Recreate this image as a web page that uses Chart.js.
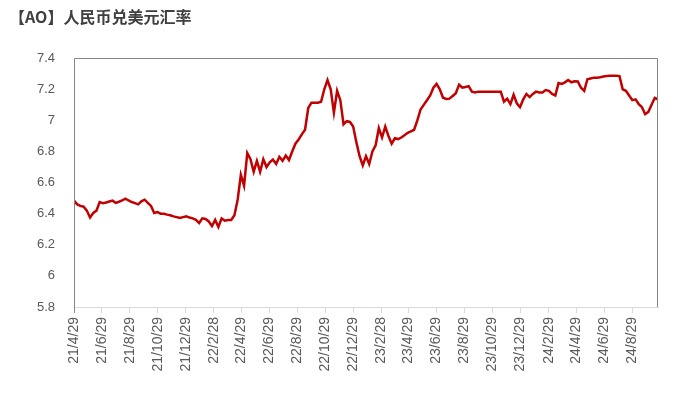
<html>
    <head>
        <script src="https://cdn.jsdelivr.net/npm/chart.js@4.4.0/dist/chart.umd.min.js"></script>
        <style>
            body { margin: 0; background: #fff; }
            #wrap { width: 675px; height: 393px; }
        </style>
    </head>
    <body>
        <div id="wrap"><canvas id="myChart" width="675" height="393"></canvas></div>

        <script>
            // weekly USD/CNY readings, first one on 2021-04-29
            var startDate = '21/4/29';
            var rates = [
                6.485, 6.46, 6.45, 6.445, 6.42, 6.375, 6.405, 6.42, 6.475, 6.468,
                6.472, 6.478, 6.484, 6.47, 6.477, 6.485, 6.497, 6.485, 6.475, 6.468,
                6.46, 6.48, 6.49, 6.47, 6.45, 6.405, 6.41, 6.40, 6.40, 6.394,
                6.39, 6.383, 6.378, 6.372, 6.378, 6.383, 6.375, 6.37, 6.361, 6.34,
                6.37, 6.366, 6.35, 6.32, 6.36, 6.315, 6.37, 6.355, 6.36, 6.36,
                6.39, 6.49, 6.65, 6.58, 6.79, 6.75, 6.67, 6.74, 6.67, 6.75,
                6.70, 6.73, 6.748, 6.72, 6.766, 6.74, 6.774, 6.745, 6.80, 6.85,
                6.877, 6.91, 6.94, 7.08, 7.114, 7.114, 7.114, 7.12, 7.20, 7.26,
                7.20, 7.05, 7.19, 7.13, 6.975, 6.995, 6.99, 6.96, 6.86, 6.77,
                6.71, 6.77, 6.72, 6.80, 6.84, 6.95, 6.89, 6.96, 6.90, 6.85,
                6.885, 6.88, 6.89, 6.905, 6.92, 6.93, 6.94, 7.00, 7.07, 7.10,
                7.13, 7.16, 7.21, 7.235, 7.20, 7.146, 7.138, 7.14, 7.157, 7.175,
                7.23, 7.21, 7.215, 7.22, 7.185, 7.18, 7.185, 7.185, 7.185, 7.185,
                7.185, 7.185, 7.185, 7.185, 7.12, 7.14, 7.105, 7.165, 7.11, 7.085,
                7.135, 7.17, 7.15, 7.17, 7.185, 7.18, 7.18, 7.195, 7.19, 7.17,
                7.16, 7.24, 7.235, 7.245, 7.26, 7.245, 7.252, 7.25, 7.21, 7.19,
                7.265, 7.27, 7.275, 7.275, 7.278, 7.282, 7.286, 7.287, 7.287, 7.287,
                7.285, 7.20, 7.19, 7.16, 7.13, 7.135, 7.105, 7.085, 7.04, 7.055,
                7.10, 7.145, 7.135
            ];
            var tickLabels = [
                '21/4/29', '21/6/29', '21/8/29', '21/10/29', '21/12/29', '22/2/28',
                '22/4/29', '22/6/29', '22/8/29', '22/10/29', '22/12/29', '23/2/28',
                '23/4/29', '23/6/29', '23/8/29', '23/10/29', '23/12/29', '24/2/29',
                '24/4/29', '24/6/29', '24/8/29'
            ];
            var yTicks = [5.8, 6, 6.2, 6.4, 6.6, 6.8, 7, 7.2, 7.4];

            function toDay(s) {
                var p = s.split('/');
                return Date.UTC(2000 + +p[0], +p[1] - 1, +p[2]) / 86400000;
            }
            var day0 = toDay(startDate);
            var tickDays = tickLabels.map(s => toDay(s) - day0);
            var points = rates.map((v, i) => ({ x: i * 7, y: v }));

            // frame: grey left/top/right, left line runs down into the first tick
            var framePlugin = {
                id: 'frame',
                afterDatasetsDraw(chart) {
                    var a = chart.chartArea, c = chart.ctx;
                    c.save();
                    c.strokeStyle = '#868686';
                    c.lineWidth = 1;
                    c.beginPath();
                    c.moveTo(Math.round(a.left) + 0.5, Math.round(a.bottom) + 6);
                    c.lineTo(Math.round(a.left) + 0.5, Math.round(a.top) + 0.5);
                    c.lineTo(Math.round(a.right) - 0.5, Math.round(a.top) + 0.5);
                    c.lineTo(Math.round(a.right) - 0.5, Math.round(a.bottom));
                    c.stroke();
                    c.restore();
                }
            };

            var ctx = document.getElementById('myChart').getContext('2d');
            var chart = new Chart(ctx, {
                type: 'line',
                data: {
                    datasets: [{
                        label: '人民币兑美元汇率',
                        data: points,
                        borderColor: '#c00000',
                        borderWidth: 2.5,
                        pointRadius: 0,
                        tension: 0,
                        fill: false
                    }]
                },
                options: {
                    responsive: false,
                    animation: false,
                    devicePixelRatio: 1,
                    layout: { padding: { left: 9, right: 17, top: 0, bottom: 0 } },
                    plugins: {
                        legend: { display: false },
                        tooltip: { enabled: false },
                        title: {
                            display: true,
                            text: '【AO】人民币兑美元汇率',
                            align: 'start',
                            color: '#404040',
                            font: { family: '"Noto Sans CJK SC", sans-serif', size: 16, weight: 'bold' },
                            padding: { top: 7, bottom: 32 }
                        }
                    },
                    scales: {
                        x: {
                            type: 'linear',
                            min: 0,
                            max: (rates.length - 1) * 7,
                            afterBuildTicks: s => { s.ticks = tickDays.map(v => ({ value: v })); },
                            afterFit: s => { s.height = 86; },
                            grid: {
                                drawOnChartArea: false,
                                drawTicks: true,
                                tickLength: 6,
                                color: '#d9d9d9'
                            },
                            border: { display: true, color: '#d9d9d9' },
                            ticks: {
                                autoSkip: false,
                                minRotation: 90,
                                maxRotation: 90,
                                padding: 4,
                                color: '#595959',
                                font: { family: '"Liberation Sans", Arial, sans-serif', size: 14 },
                                callback: (v, i) => tickLabels[i]
                            }
                        },
                        y: {
                            min: 5.8,
                            max: 7.4,
                            afterBuildTicks: s => { s.ticks = yTicks.map(v => ({ value: v })); },
                            afterFit: s => { s.width = 65; },
                            grid: { display: false },
                            border: { display: false },
                            ticks: {
                                padding: 11,
                                color: '#595959',
                                font: { family: '"Liberation Sans", Arial, sans-serif', size: 13 },
                                callback: (v, i) => String(yTicks[i])
                            }
                        }
                    }
                },
                plugins: [framePlugin]
            });
        </script>
    </body>
</html>
